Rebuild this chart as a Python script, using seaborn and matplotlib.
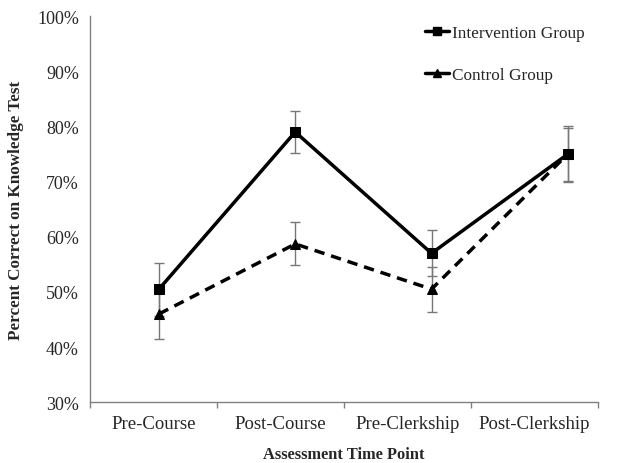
import matplotlib
matplotlib.use("Agg")
import matplotlib.pyplot as plt
import pandas as pd
import seaborn as sns

# data
time_points = ["Pre-Course", "Post-Course", "Pre-Clerkship", "Post-Clerkship"]
intervention = [50.5, 79.0, 57.0, 75.0]
intervention_err = [4.8, 3.8, 4.2, 5.0]
control = [46.0, 58.7, 50.5, 75.0]
control_err = [4.5, 3.9, 4.1, 4.8]
groups = ["Intervention Group", "Control Group"]

df = pd.DataFrame({
    "x": list(range(4)) * 2,
    "pct": intervention + control,
    "err": intervention_err + control_err,
    "group": [groups[0]] * 4 + [groups[1]] * 4,
})

sns.set_style("white")
plt.rcParams["font.family"] = ["Liberation Serif", "DejaVu Serif"]

fig = plt.figure(figsize=(6.38, 4.64), dpi=100)
ax = fig.add_axes([0.141, 0.131, 0.796, 0.832])

# category axis (labels sit between the boundary ticks)
ax.set_xlim(-0.5, 3.5)
ax.set_ylim(30, 100)
ax.set_xticks([i + 0.5 for i in range(-1, 4)])
ax.set_xticklabels([])
ax.set_xticks(range(4), minor=True)
ax.set_xticklabels(time_points, minor=True, fontsize=13.5)
ax.tick_params(axis="x", which="minor", length=0, pad=9)
ax.tick_params(axis="x", which="major", length=4, width=1, color="#808080", direction="out")
ax.set_yticks(range(30, 101, 10))
ax.set_yticklabels([f"{v}%" for v in range(30, 101, 10)], fontsize=13)
ax.tick_params(axis="y", length=4, width=1, color="#808080", direction="out", pad=4)
for s in ["top", "right"]:
    ax.spines[s].set_visible(False)
for s in ["left", "bottom"]:
    ax.spines[s].set_color("#808080")
    ax.spines[s].set_linewidth(1)
ax.set_xlabel("Assessment Time Point", fontsize=11.8, fontweight="bold", labelpad=10)
ax.set_ylabel("Percent Correct on Knowledge Test", fontsize=12.3, fontweight="bold", labelpad=9)

# data axis, points sit a bit right of the category labels in the original
axd = ax.twiny()
axd.set_xlim(-0.506, 3.22)
axd.set_ylim(30, 100)
axd.axis("off")

for g in groups:
    sub = df[df["group"] == g]
    axd.errorbar(sub["x"], sub["pct"], yerr=sub["err"], fmt="none",
                 ecolor="#777777", elinewidth=1, capsize=3.5, capthick=1, zorder=1)

sns.lineplot(data=df, x="x", y="pct", hue="group", style="group",
             palette=["black", "black"], markers=["s", "^"],
             dashes=[(1, 0), (3, 2)], linewidth=2.5, markersize=7,
             markeredgecolor="black", ax=axd, legend=False, zorder=3)

handles = [
    plt.Line2D([], [], color="black", lw=2.5, marker="s", markersize=6),
    plt.Line2D([], [], color="black", lw=2.5, marker="^", markersize=6),
]
ax.legend(handles, groups, loc="upper left", bbox_to_anchor=(0.629, 1.018),
          frameon=False, fontsize=12.4, handlelength=1.4, handletextpad=0.2,
          labelspacing=1.5, markerfirst=True)

fig.savefig("out.png", dpi=100)
